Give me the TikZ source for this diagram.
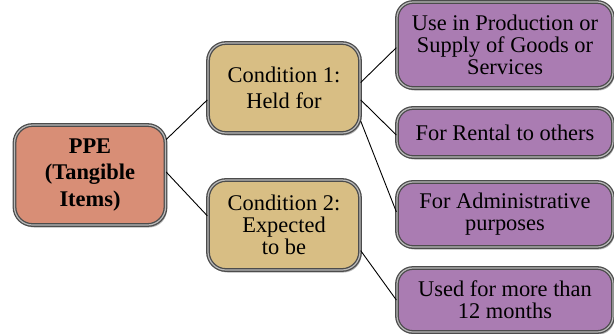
\documentclass[tikz,border=0pt]{standalone}
\usepackage{fontspec}
\setmainfont{Liberation Serif}
\usepackage{xcolor}
\usetikzlibrary{positioning, shadows, calc}

\definecolor{ppefill}{RGB}{216,142,118}
\definecolor{condfill}{RGB}{216,190,132}
\definecolor{usefill}{RGB}{170,124,178}

\begin{document}
\begin{tikzpicture}[
    x=1bp, y=-1bp,
    box/.style={rectangle, draw=black!70, line width=1.3bp, double=gray!55, double distance=1.2bp, rounded corners=18bp, align=center, inner sep=0pt, drop shadow={shadow xshift=1.5bp, shadow yshift=-2.5bp, opacity=0.6}},
    ppe/.style={box, fill=ppefill, minimum width=151bp, minimum height=100bp, font=\fontsize{22.5}{27}\selectfont\bfseries},
    cond/.style={box, fill=condfill, minimum width=152bp, minimum height=90bp, font=\fontsize{22.5}{22}\selectfont},
    use/.style={box, fill=usefill, minimum width=216bp, font=\fontsize{22.5}{22}\selectfont, rounded corners=16bp},
    line/.style={draw=black, line width=0.9bp}
]
\useasboundingbox (0,0) rectangle (614,333);

% Root
\node [ppe] (ppe) at (90,175) {PPE\\(Tangible\\Items)};

% Conditions
\node [cond] (held) at (284,88) {Condition 1:\\[4bp]Held for};
\node [cond] (expect) at (284,225) {Condition 2:\\Expected\\to be};

% Uses
\node [use, minimum height=86bp] (prod) at (505,45) {Use in Production or\\Supply of Goods or\\Services};
\node [use, minimum height=49bp] (rent) at (505,132.5) {For Rental to others};
\node [use, minimum height=65bp] (admin) at (505,214.5) {For Administrative\\purposes};
\node [use, minimum height=64bp] (months) at (505,300) {Used for more than\\12 months};

% Connections
\path [line] ($(ppe.north east)!0.15!(ppe.south east)$) -- ($(held.north west)!0.63!(held.south west)$);
\path [line] ($(ppe.north east)!0.47!(ppe.south east)$) -- ($(expect.north west)!0.40!(expect.south west)$);
\path [line] ($(held.north east)!0.44!(held.south east)$) -- ($(prod.north west)!0.53!(prod.south west)$);
\path [line] ($(held.north east)!0.63!(held.south east)$) -- ($(rent.north west)!0.55!(rent.south west)$);
\path [line] ($(held.north east)!0.86!(held.south east)$) -- ($(admin.north west)!0.46!(admin.south west)$);
\path [line] ($(expect.north east)!0.78!(expect.south east)$) -- ($(months.north west)!0.50!(months.south west)$);

\end{tikzpicture}
\end{document}
